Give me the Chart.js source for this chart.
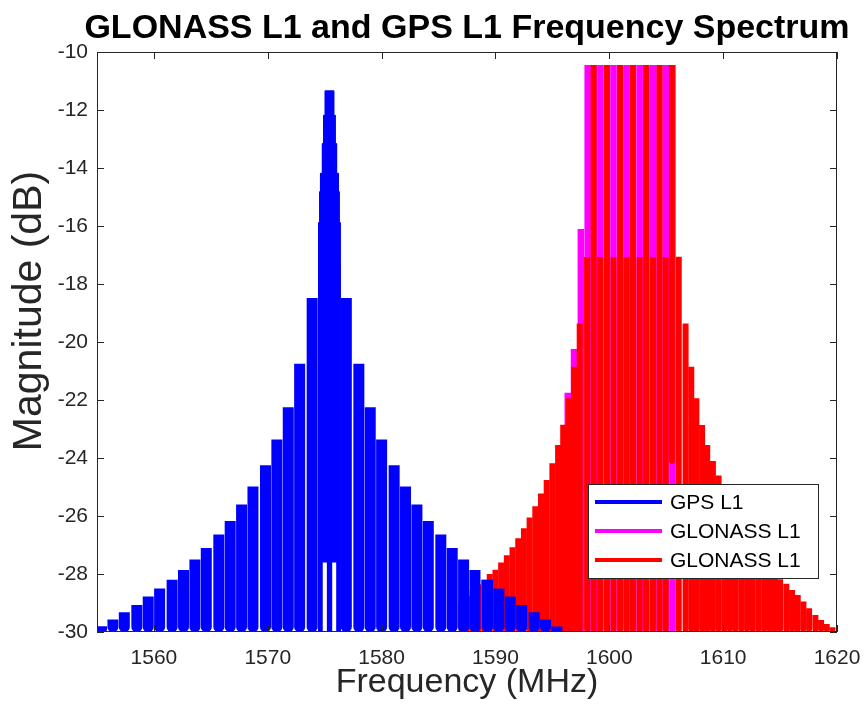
<!DOCTYPE html>
<html>
<head>
<meta charset="utf-8">
<title>GLONASS L1 and GPS L1 Frequency Spectrum</title>
<script src="https://cdn.jsdelivr.net/npm/chart.js@4.4.1/dist/chart.umd.min.js"></script>
<style>
  html, body { margin: 0; padding: 0; background: #fff; }
</style>
</head>
<body>
<canvas id="spectrum" width="864" height="715"></canvas>
<script>
var chartTitle = "GLONASS L1 and GPS L1 Frequency Spectrum";
var xTitle = "Frequency (MHz)";
var yTitle = "Magnitude (dB)";
var freqMin = 1555, freqMax = 1620, floorDb = -30, topDb = -10;
var freqTicks = [1560, 1570, 1580, 1590, 1600, 1610, 1620];
var magTicks = [-30, -28, -26, -24, -22, -20, -18, -16, -14, -12, -10];

// GPS L1 side lobes: centre frequency (MHz) and peak level (dB)
var gpsFreq = [1555.4, 1556.4, 1557.4, 1558.5, 1559.5, 1560.5, 1561.6, 1562.6, 1563.6, 1564.6,
  1565.7, 1566.7, 1567.7, 1568.7, 1569.8, 1570.8, 1571.8, 1572.8, 1573.9,
  1576.9, 1578.0, 1579.0, 1580.0, 1581.1, 1582.1, 1583.1, 1584.1, 1585.2, 1586.2,
  1587.2, 1588.2, 1589.3, 1590.3, 1591.3, 1592.3, 1593.4, 1594.4, 1595.4];
var gpsPeak = [-29.8, -29.57, -29.32, -29.07, -28.78, -28.5, -28.2, -27.86, -27.5, -27.1,
  -26.64, -26.17, -25.6, -24.98, -24.25, -23.36, -22.25, -20.75, -18.48,
  -18.48, -20.75, -22.25, -23.36, -24.25, -24.98, -25.6, -26.17, -26.64, -27.1,
  -27.5, -27.86, -28.2, -28.5, -28.78, -29.07, -29.32, -29.57, -29.81];

// GPS L1 main lobe, stepped outline (each level holds until the next frequency)
var gpsMainFreq = [1574.41, 1574.50, 1574.59, 1574.67, 1574.83, 1574.94, 1575.07,
  1575.77, 1575.90, 1576.01, 1576.17, 1576.25, 1576.34, 1576.43];
var gpsMainLevel = [-17.3, -15.9, -14.83, -14.2, -13.17, -12.2, -11.35,
  -12.2, -13.17, -14.2, -14.83, -15.9, -17.3, -17.3];
// lower edge of the main lobe (the two gaps beside the carrier)
var gpsFloorFreq = [1574.41, 1574.83, 1575.19, 1575.66, 1576.01, 1576.43];
var gpsFloorLevel = [-30, -27.6, -30, -27.6, -30, -30];

// GLONASS L1 (red)
var glonassFreq = [1587.0, 1587.5, 1588.0, 1588.5, 1589.0, 1589.5, 1590.0, 1590.5, 1591.0, 1591.5,
  1592.0, 1592.5, 1593.0, 1593.5, 1594.0, 1594.5, 1595.0, 1595.5, 1595.95, 1596.45, 1596.9, 1597.4,
  1598.05, 1598.62, 1599.2, 1599.79, 1600.37, 1600.96, 1601.52, 1602.07, 1602.66, 1603.24, 1603.83, 1604.41, 1604.95, 1605.5,
  1606.1, 1606.7, 1607.2, 1607.65, 1608.15, 1608.6, 1609.1, 1609.6, 1610.1, 1610.6,
  1611.1, 1611.6, 1612.1, 1612.6, 1613.1, 1613.6, 1614.1, 1614.55, 1615.0, 1615.55,
  1616.05, 1616.55, 1617.05, 1617.55, 1618.1, 1618.6, 1619.1, 1619.6];
var glonassPeak = [-29.0, -28.75, -28.55, -28.35, -28.2, -28.0, -27.85, -27.6, -27.35, -27.08,
  -26.77, -26.42, -26.05, -25.66, -25.22, -24.76, -24.18, -23.55, -22.85, -21.94, -20.85, -19.36,
  -17.07, -10.45, -17.07, -10.45, -17.07, -10.45, -17.07, -10.45, -17.07, -10.45, -17.07, -10.45, -17.07, -10.45,
  -17.06, -19.36, -20.85, -21.94, -22.86, -23.55, -24.1, -24.6, -25.2, -25.66,
  -26.05, -26.42, -26.77, -27.08, -27.34, -27.6, -27.85, -28.05, -28.18, -28.34,
  -28.55, -28.72, -28.95, -29.18, -29.41, -29.59, -29.72, -29.84];
// lobes that stop above the floor
var glonassCutFreq = [1605.5];
var glonassCutLevel = [-24.2];

// GLONASS L1 (magenta), all channels
var glonassAllFreq = [1596.35, 1596.9, 1597.5, 1598.1, 1598.65, 1599.22, 1599.8, 1600.37, 1600.95,
  1601.52, 1602.1, 1602.67, 1603.25, 1603.82, 1604.4, 1604.97, 1605.55];
var glonassAllPeak = [-21.75, -20.24, -16.1, -10.45, -10.45, -10.45, -10.45, -10.45, -10.45,
  -10.45, -10.45, -10.45, -10.45, -10.45, -10.45, -10.45, -10.45];

function barData(freqs, peaks, cutFreqs, cutLevels) {
  var out = [];
  for (var i = 0; i < freqs.length; i++) {
    var low = floorDb;
    var k = cutFreqs ? cutFreqs.indexOf(freqs[i]) : -1;
    if (k >= 0) low = cutLevels[k];
    out.push({x: freqs[i], y: [low, peaks[i]]});
  }
  return out;
}

function lineData(freqs, levels) {
  var out = [];
  for (var i = 0; i < freqs.length; i++) {
    out.push({x: freqs[i], y: levels[i]});
  }
  return out;
}

var fontFamily = '"Liberation Sans", Arial, Helvetica, sans-serif';
Chart.defaults.font.family = fontFamily;

function drawText(ctx, str, x, y, font, align, baseline, rotated) {
  ctx.save();
  ctx.translate(x, y);
  if (rotated) ctx.rotate(-Math.PI / 2);
  ctx.font = font;
  ctx.textAlign = align;
  ctx.textBaseline = baseline;
  ctx.fillText(str, 0, 0);
  ctx.restore();
}

// box around the plot, inward ticks, tick labels, titles and legend
var framePlugin = {
  id: "frame",
  afterDraw: function(chart) {
    var ctx = chart.ctx;
    var a = chart.chartArea;
    var xs = chart.scales.x, ys = chart.scales.y;
    var tl = 7;
    ctx.save();
    ctx.strokeStyle = "#262626";
    ctx.lineWidth = 1;
    ctx.strokeRect(a.left + 0.5, a.top + 0.5, a.right - a.left - 1, a.bottom - a.top - 1);
    ctx.beginPath();
    freqTicks.forEach(function(v) {
      var px = Math.round(xs.getPixelForValue(v)) + 0.5;
      ctx.moveTo(px, a.bottom); ctx.lineTo(px, a.bottom - tl);
      ctx.moveTo(px, a.top); ctx.lineTo(px, a.top + tl);
    });
    magTicks.forEach(function(v) {
      var py = Math.round(ys.getPixelForValue(v)) + 0.5;
      ctx.moveTo(a.left, py); ctx.lineTo(a.left + tl, py);
      ctx.moveTo(a.right, py); ctx.lineTo(a.right - tl, py);
    });
    ctx.stroke();

    ctx.fillStyle = "#262626";
    freqTicks.forEach(function(v) {
      drawText(ctx, String(v), xs.getPixelForValue(v), a.bottom + 26, "21px " + fontFamily, "center", "middle");
    });
    magTicks.forEach(function(v) {
      drawText(ctx, String(v), a.left - 9, ys.getPixelForValue(v), "21px " + fontFamily, "right", "middle");
    });
    drawText(ctx, xTitle, (a.left + a.right) / 2, a.bottom + 51, "34px " + fontFamily, "center", "middle");
    drawText(ctx, yTitle, 30, 311, "41px " + fontFamily, "center", "middle", true);

    ctx.fillStyle = "#000";
    drawText(ctx, chartTitle, (a.left + a.right) / 2, 38, "bold 34px " + fontFamily, "center", "alphabetic");

    // legend in the lower right corner of the plot
    var order = [0, 4, 3];
    var bw = 230, bh = 94;
    var bx = a.right - 19 - bw, by = a.bottom - 54 - bh;
    ctx.fillStyle = "#fff";
    ctx.fillRect(bx, by, bw, bh);
    ctx.strokeStyle = "#262626";
    ctx.strokeRect(bx + 0.5, by + 0.5, bw, bh);
    order.forEach(function(idx, row) {
      var ds = chart.data.datasets[idx];
      var ry = by + 18 + row * 29;
      ctx.strokeStyle = ds.backgroundColor;
      ctx.lineWidth = 4;
      ctx.beginPath();
      ctx.moveTo(bx + 7, ry); ctx.lineTo(bx + 74, ry);
      ctx.stroke();
      ctx.fillStyle = "#000";
      drawText(ctx, ds.label, bx + 82, ry + 1, "21px " + fontFamily, "left", "middle");
    });
    ctx.restore();
  }
};

var ctx = document.getElementById("spectrum");

var spectrumChart = new Chart(ctx, {
  type: "bar",
  data: {
    datasets: [
      {
        label: "GPS L1",
        data: barData(gpsFreq, gpsPeak),
        backgroundColor: "#0000ff",
        grouped: false,
        barThickness: 11,
        borderRadius: 5,
        inflateAmount: 0
      },
      {
        label: "GPS L1 main lobe",
        type: "line",
        data: lineData(gpsMainFreq, gpsMainLevel),
        stepped: "before",
        borderColor: "#0000ff",
        backgroundColor: "#0000ff",
        borderWidth: 2,
        borderJoinStyle: "round",
        pointRadius: 0,
        fill: 2
      },
      {
        label: "GPS L1 floor",
        type: "line",
        data: lineData(gpsFloorFreq, gpsFloorLevel),
        stepped: "before",
        borderColor: "rgba(0,0,0,0)",
        borderWidth: 0,
        pointRadius: 0,
        fill: false
      },
      {
        label: "GLONASS L1",
        data: barData(glonassFreq, glonassPeak, glonassCutFreq, glonassCutLevel),
        backgroundColor: "#ff0000",
        grouped: false,
        barThickness: 6,
        borderRadius: 3,
        inflateAmount: 0
      },
      {
        label: "GLONASS L1",
        data: barData(glonassAllFreq, glonassAllPeak),
        backgroundColor: "#ff00ff",
        grouped: false,
        barThickness: 6.5,
        borderRadius: 2,
        inflateAmount: 0
      }
    ]
  },
  options: {
    responsive: false,
    animation: false,
    devicePixelRatio: 1,
    events: [],
    layout: { padding: { top: 52, right: 27, left: 0, bottom: 0 } },
    plugins: {
      legend: { display: false },
      tooltip: { enabled: false },
      title: { display: false }
    },
    scales: {
      x: {
        type: "linear",
        min: freqMin,
        max: freqMax,
        offset: false,
        grid: { display: false, drawTicks: false },
        border: { display: false },
        ticks: { display: false },
        afterFit: function(scale) {
          scale.height = 83;
          scale.paddingLeft = 0;
          scale.paddingRight = 0;
        }
      },
      y: {
        type: "linear",
        min: floorDb,
        max: topDb,
        grid: { display: false, drawTicks: false },
        border: { display: false },
        ticks: { display: false },
        afterFit: function(scale) { scale.width = 97; }
      }
    }
  },
  plugins: [framePlugin]
});
</script>
</body>
</html>
